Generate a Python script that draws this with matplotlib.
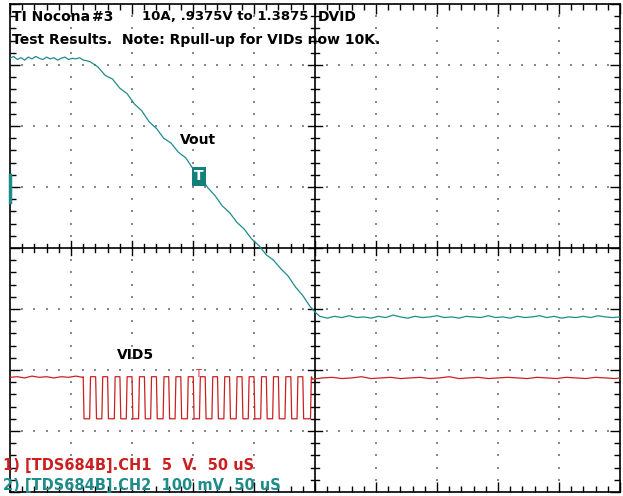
import numpy as np
import matplotlib
matplotlib.use("Agg")
import matplotlib.pyplot as plt

plt.rcParams['font.family'] = ['DejaVu Sans']

# screen: 10 div x 50 us, 8 div vertical (values in divisions)
TEAL = '#1f8c8c'
RED = '#cc2020'

# CH2 Vout (teal)
vout_t = [0, 3, 6, 9, 12, 15, 18, 21, 24, 27, 30, 33, 36, 39, 42, 45, 48, 51, 54, 57, 60, 63,
          66, 72, 78, 84, 90, 96, 102, 108, 114, 120, 126, 132, 138, 144, 150, 156, 162, 168,
          174, 180, 186, 192, 198, 204, 210, 216, 222, 228, 234, 240, 246, 251, 254,
          260, 266, 272, 278, 284, 290, 296, 302, 308, 314, 320, 326, 332, 338, 344, 350,
          356, 362, 368, 374, 380, 386, 392, 398, 404, 410, 416, 422, 428, 434, 440, 446,
          452, 458, 464, 470, 476, 482, 488, 494, 500]
vout_v = [7.11, 7.14, 7.09, 7.12, 7.08, 7.13, 7.10, 7.14, 7.11, 7.09, 7.13, 7.10, 7.12, 7.08,
          7.11, 7.13, 7.09, 7.11, 7.10, 7.12, 7.08, 7.07,
          7.05, 6.97, 6.83, 6.77, 6.62, 6.53, 6.36, 6.25, 6.07, 5.96, 5.80, 5.72, 5.57, 5.48,
          5.30, 5.18, 4.99, 4.86, 4.69, 4.58, 4.42, 4.31, 4.15, 4.04, 3.89, 3.80, 3.66, 3.54,
          3.36, 3.22, 3.04, 2.93, 2.88,
          2.85, 2.88, 2.86, 2.89, 2.86, 2.87, 2.85, 2.88, 2.86, 2.90, 2.87, 2.85, 2.88, 2.86,
          2.87, 2.89, 2.86, 2.87, 2.85, 2.88, 2.87, 2.86, 2.89, 2.86, 2.87, 2.85, 2.88, 2.86,
          2.87, 2.89, 2.86, 2.88, 2.85, 2.87, 2.86, 2.88, 2.86, 2.89, 2.87, 2.86, 2.87]

# CH1 VID5 (red): flat parts and pulse train
vid_pre_t = [0, 6, 12, 18, 24, 30, 36, 42, 48, 54, 59.5]
vid_pre_v = [1.88, 1.89, 1.87, 1.90, 1.88, 1.89, 1.87, 1.89, 1.88, 1.90, 1.88]
vid_low_start = [60.0, 70.2, 80.0, 90.1, 100.0, 110.2, 120.0, 130.1, 140.0, 150.2,
                 160.0, 170.1, 180.0, 190.2, 200.0, 210.1, 220.0, 230.2, 240.0]
vid_low_end = [66.0, 76.0, 86.2, 96.0, 106.1, 116.0, 126.2, 136.0, 146.1, 156.0,
               166.2, 176.0, 186.1, 196.0, 206.2, 216.0, 226.1, 236.0, 247.0]
vid_high = 1.89
vid_low = 1.20
vid_post_t = [248, 256, 264, 272, 280, 288, 296, 304, 312, 320, 328, 336, 344, 352, 360, 368,
              376, 384, 392, 400, 408, 416, 424, 432, 440, 448, 456, 464, 472, 480, 488, 496, 500]
vid_post_v = [1.85, 1.87, 1.88, 1.86, 1.87, 1.89, 1.86, 1.87, 1.88, 1.86, 1.87, 1.88, 1.86,
              1.87, 1.89, 1.86, 1.87, 1.88, 1.86, 1.87, 1.88, 1.87, 1.86, 1.88, 1.87, 1.86,
              1.88, 1.87, 1.86, 1.88, 1.87, 1.86, 1.87]

# first header line, piece by piece (text, left edge in us, size)
title1_words = ['TI Nocona', '#3', '10A, .9375V to 1.3875', 'DVID']
title1_x = [1.6, 67.2, 108.2, 252.5]
title1_size = [10, 10, 9.5, 10]
title2 = 'Test Results.  Note: Rpull-up for VIDs now 10K.'
legend1 = '1) [TDS684B].CH1  5  V.  50 uS'
legend2 = '2) [TDS684B].CH2  100 mV  50 uS'

fig = plt.figure(figsize=(6.23, 4.96), dpi=100)
ax = fig.add_axes([10 / 623, 4 / 496, 610 / 623, 488 / 496])
ax.set_xlim(0, 500)
ax.set_ylim(0, 8)

# dotted graticule
gx, gy = [], []
for k in range(1, 10):
    if k == 5:
        continue
    for y in np.arange(0.2, 8, 0.2):
        gx.append(k * 50)
        gy.append(y)
for k in range(1, 8):
    if k == 4:
        continue
    for x in np.arange(10, 500, 10):
        gx.append(x)
        gy.append(k)
ax.scatter(gx, gy, s=1.2, c='#8a8a8a', marker='s', linewidths=0, zorder=1)

# center cross with ticks
ax.axhline(4, color='black', lw=1.2, zorder=2)
ax.axvline(250, color='black', lw=1.2, zorder=2)
for x in np.arange(10, 500, 10):
    h = 0.11 if x % 50 == 0 else 0.065
    ax.plot([x, x], [4 - h, 4 + h], color='black', lw=1, zorder=2)
for y in np.arange(0.2, 8, 0.2):
    h = 6.0 if abs(y - round(y)) < 1e-6 else 3.5
    ax.plot([250 - h, 250 + h], [y, y], color='black', lw=1, zorder=2)

# border ticks
ax.set_xticks(np.arange(0, 501, 50))
ax.set_xticks(np.arange(0, 501, 10), minor=True)
ax.set_yticks(np.arange(0, 8.01, 1))
ax.set_yticks(np.arange(0, 8.01, 0.2), minor=True)
ax.tick_params(which='both', direction='in', top=True, right=True,
               labelbottom=False, labelleft=False, color='black')
ax.tick_params(which='major', length=7, width=1)
ax.tick_params(which='minor', length=4.5, width=1)
for s in ax.spines.values():
    s.set_linewidth(1.2)

# VID5 trace
rt = list(vid_pre_t)
rv = list(vid_pre_v)
for a, b in zip(vid_low_start, vid_low_end):
    rt += [a, a + 0.7, b - 0.7, b]
    rv += [vid_high, vid_low, vid_low, vid_high]
rt += vid_post_t
rv += vid_post_v
ax.plot(rt, rv, color=RED, lw=0.9, zorder=4)

# Vout trace
ax.plot(vout_t, vout_v, color=TEAL, lw=0.9, zorder=4)

# ground marker ch2
ax.plot([0, 0], [4.75, 5.2], color=TEAL, lw=2.5, zorder=5, clip_on=False)

# trigger markers
ax.text(155, 5.18, 'T', color='white', fontsize=10, fontweight='bold', ha='center', va='center',
        zorder=6, bbox=dict(boxstyle='square,pad=0.18', fc='#14807c', ec='none'))
ax.text(154, 1.93, 'T', color=RED, fontsize=7, ha='center', va='center', zorder=6)

# labels
for w, x, fs in zip(title1_words, title1_x, title1_size):
    ax.text(x, 7.79, w, fontsize=fs, fontweight='bold', va='center', zorder=7)
ax.text(1.5, 7.41, title2, fontsize=10, fontweight='bold', va='center', zorder=7)
ax.text(139, 5.77, 'Vout', fontsize=10, fontweight='bold', va='center', zorder=7)
ax.text(88, 2.25, 'VID5', fontsize=10, fontweight='bold', va='center', zorder=7)
ax.text(-6, 0.43, legend1, fontsize=10.5, fontweight='bold', color=RED, va='center',
        zorder=7, clip_on=False)
ax.text(-6, 0.10, legend2, fontsize=10.5, fontweight='bold', color=TEAL, va='center',
        zorder=7, clip_on=False)

fig.savefig('out.png', dpi=100)
